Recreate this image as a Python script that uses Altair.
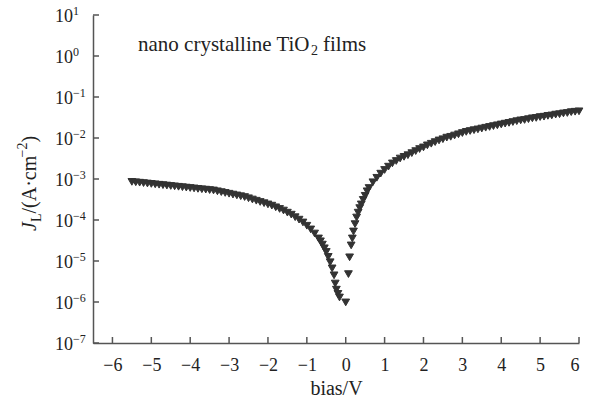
import altair as alt
import pandas as pd

# ---- data (bias in V, current density in A/cm^2) ----
bias_v = [
    -5.5, -5.4, -5.3, -5.2, -5.1, -5.0, -4.9, -4.8, -4.7, -4.6,
    -4.5, -4.4, -4.3, -4.2, -4.1, -4.0, -3.9, -3.8, -3.7, -3.6,
    -3.5, -3.4, -3.3, -3.2, -3.1, -3.0, -2.9, -2.8, -2.7, -2.6,
    -2.5, -2.4, -2.3, -2.2, -2.1, -2.0, -1.9, -1.8, -1.7, -1.6,
    -1.5, -1.4, -1.3, -1.2, -1.1, -1.0, -0.9, -0.8, -0.7, -0.65,
    -0.6, -0.55, -0.5, -0.45, -0.4, -0.35, -0.3, -0.27, -0.24, -0.2,
    -0.16, 0.0,
    0.07, 0.10, 0.14, 0.17, 0.20, 0.24, 0.28, 0.32, 0.36, 0.40,
    0.45, 0.50, 0.55, 0.60, 0.70, 0.80, 0.90, 1.00, 1.10, 1.20,
    1.30, 1.40, 1.50, 1.60, 1.70, 1.80, 1.90, 2.00, 2.10, 2.20,
    2.30, 2.40, 2.50, 2.60, 2.70, 2.80, 2.90, 3.00, 3.10, 3.20,
    3.30, 3.40, 3.50, 3.60, 3.70, 3.80, 3.90, 4.00, 4.10, 4.20,
    4.30, 4.40, 4.50, 4.60, 4.70, 4.80, 4.90, 5.00, 5.10, 5.20,
    5.30, 5.40, 5.50, 5.60, 5.70, 5.80, 5.90, 6.00,
]
j_current = [
    8.51e-4, 8.32e-4, 8.13e-4, 7.94e-4, 7.76e-4, 7.59e-4, 7.41e-4, 7.24e-4, 7.08e-4, 6.92e-4,
    6.76e-4, 6.61e-4, 6.46e-4, 6.31e-4, 6.17e-4, 6.03e-4, 5.89e-4, 5.75e-4, 5.62e-4, 5.50e-4,
    5.37e-4, 5.25e-4, 5.01e-4, 4.79e-4, 4.57e-4, 4.37e-4, 4.17e-4, 3.98e-4, 3.80e-4, 3.63e-4,
    3.39e-4, 3.16e-4, 2.95e-4, 2.75e-4, 2.57e-4, 2.40e-4, 2.24e-4, 2.04e-4, 1.86e-4, 1.70e-4,
    1.51e-4, 1.35e-4, 1.17e-4, 1.02e-4, 8.71e-5, 7.24e-5, 5.89e-5, 4.68e-5, 3.55e-5, 3.02e-5,
    2.51e-5, 2.04e-5, 1.66e-5, 1.26e-5, 9.33e-6, 6.61e-6, 4.47e-6, 2.82e-6, 2.00e-6, 1.58e-6,
    1.29e-6, 9.77e-7,
    4.79e-6, 1.23e-5, 2.40e-5, 3.55e-5, 5.25e-5, 7.94e-5, 1.15e-4, 1.51e-4, 1.95e-4, 2.40e-4,
    3.09e-4, 3.89e-4, 5.01e-4, 6.03e-4, 8.32e-4, 1.07e-3, 1.35e-3, 1.66e-3, 2.00e-3, 2.40e-3,
    2.75e-3, 3.16e-3, 3.47e-3, 3.80e-3, 4.27e-3, 4.79e-3, 5.37e-3, 5.89e-3, 6.61e-3, 7.24e-3,
    7.94e-3, 8.71e-3, 9.33e-3, 1.02e-2, 1.07e-2, 1.15e-2, 1.23e-2, 1.32e-2, 1.41e-2, 1.48e-2,
    1.55e-2, 1.62e-2, 1.70e-2, 1.78e-2, 1.86e-2, 1.95e-2, 2.04e-2, 2.14e-2, 2.24e-2, 2.34e-2,
    2.45e-2, 2.57e-2, 2.69e-2, 2.75e-2, 2.88e-2, 3.02e-2, 3.09e-2, 3.24e-2, 3.31e-2, 3.47e-2,
    3.55e-2, 3.72e-2, 3.80e-2, 3.98e-2, 4.07e-2, 4.27e-2, 4.37e-2, 4.47e-2,
]
x_tick_values = [-6, -5, -4, -3, -2, -1, 0, 1, 2, 3, 4, 5, 6]
y_tick_values = [1e-7, 1e-6, 1e-5, 1e-4, 1e-3, 1e-2, 1e-1, 1e0, 1e1]
y_tick_base = ["10"] * 9
y_tick_exp = ["\u22127", "\u22126", "\u22125", "\u22124", "\u22123", "\u22122", "\u22121", "0", "1"]

FONT = "Liberation Serif"
INK = "#222222"
AXC = "#555555"
W, H = 486, 328

df = pd.DataFrame({"bias": bias_v, "J": j_current})
xticks_df = pd.DataFrame({"bias": x_tick_values})
yticks_df = pd.DataFrame({"J": y_tick_values, "base": y_tick_base, "exp": y_tick_exp})

xscale = alt.Scale(domain=[-6.5, 6], nice=False, zero=False)
yscale = alt.Scale(type="log", domain=[1e-7, 10], nice=False)

xaxis = alt.Axis(
    values=x_tick_values, format="d", title="bias/V", ticks=False, tickSize=0,
    grid=False, labelFont=FONT, labelFontSize=18, labelColor=INK, labelPadding=13,
    titleFont=FONT, titleFontSize=20, titleFontWeight="normal", titleColor=INK,
    titlePadding=4, domainColor=AXC, domainWidth=1.5)
yaxis = alt.Axis(
    labels=False, ticks=False, tickSize=0, title=None, grid=False,
    domainColor=AXC, domainWidth=1.5)


def X(field="bias:Q"):
    return alt.X(field, scale=xscale, axis=xaxis, title="bias/V")


def Y(field="J:Q"):
    return alt.Y(field, scale=yscale, axis=yaxis, title=None)


points = alt.Chart(df).mark_point(
    shape="triangle-down", filled=True, size=60, color="#333333", opacity=1,
    stroke="#333333", strokeWidth=1
).encode(x=X(), y=Y())

xticks = alt.Chart(xticks_df).mark_rule(color=AXC, strokeWidth=1.5).encode(
    x=X(), y=alt.value(H), y2=alt.value(H - 6),
)
yticks = alt.Chart(yticks_df).mark_rule(color=AXC, strokeWidth=1.5).encode(
    y=Y(), x=alt.value(0), x2=alt.value(6),
)
ybase = alt.Chart(yticks_df).mark_text(
    font=FONT, fontSize=18, align="right", baseline="middle", dy=2, color=INK
).encode(y=Y(), x=alt.value(-20), text="base:N")
yexp = alt.Chart(yticks_df).mark_text(
    font=FONT, fontSize=12, align="left", baseline="alphabetic", dy=0, color=INK
).encode(y=Y(), x=alt.value(-20), text="exp:N")


def label(txt, x, y, size, angle=0, style="normal"):
    kw = dict(font=FONT, fontSize=size, align="left", baseline="alphabetic",
              color=INK, fontStyle=style)
    if angle:
        kw["angle"] = angle
    return alt.Chart(pd.DataFrame({"t": [txt]})).mark_text(**kw).encode(
        x=alt.value(x), y=alt.value(y), text="t:N")


# annotation: nano crystalline TiO2 films
ann = [
    label("nano crystalline TiO", 45, 36, 21),
    label("2", 218, 40, 14),
    label("films", 230, 36, 21),
]
# y-axis title: J_L/(A·cm^-2), rotated
yx = -57
ytitle = [
    label("J", yx, 216, 20, 270, "italic"),
    label("L", yx + 5, 207, 14, 270),
    label("/(A\u00b7cm", yx, 198.5, 20, 270),
    label("\u22122", yx - 9, 142.5, 14, 270),
    label(")", yx, 127.5, 20, 270),
]

chart = alt.layer(points, xticks, yticks, ybase, yexp, *ann, *ytitle).properties(
    width=W, height=H,
    autosize=alt.AutoSizeParams(type="none"),
    padding={"left": 93, "top": 15, "right": 10, "bottom": 62},
).configure_view(stroke=None)

chart.save("out.html", embed_options={"renderer": "svg", "actions": False})
